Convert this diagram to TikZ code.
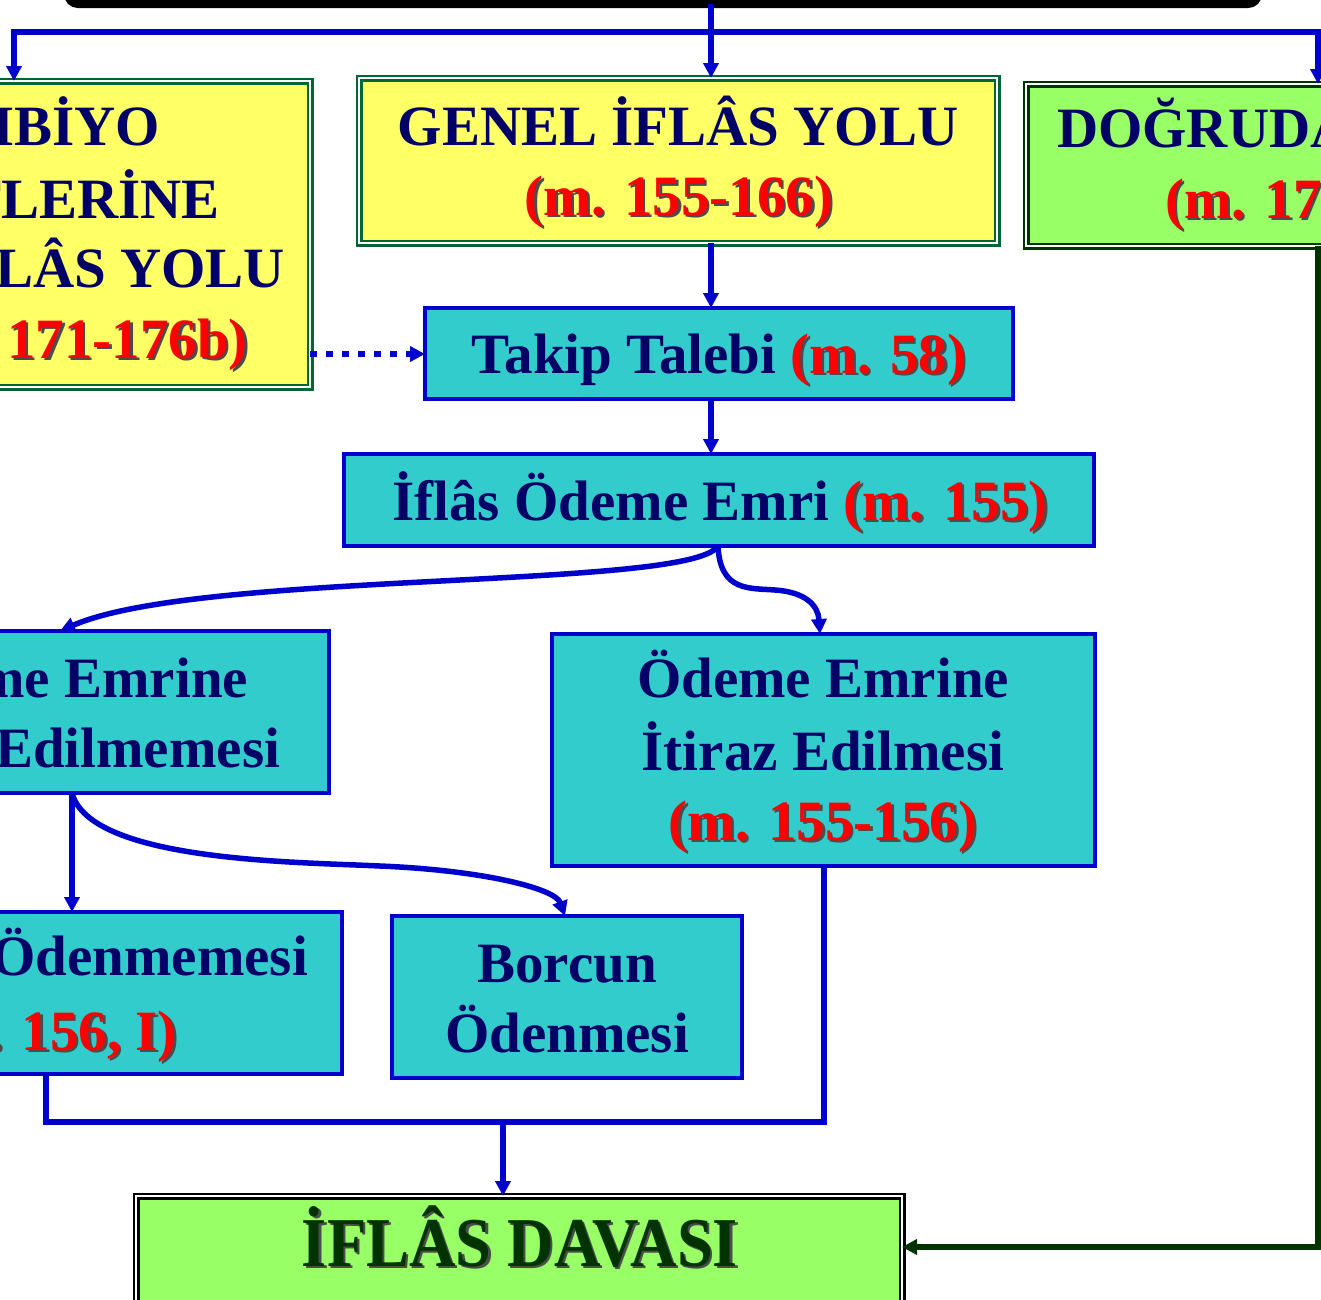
\documentclass[tikz,border=0pt]{standalone}
\usepackage{fontspec}
\setmainfont{Liberation Serif}
\usetikzlibrary{arrows.meta}
\definecolor{navy}{HTML}{000066}
\definecolor{lblue}{HTML}{0000CC}
\definecolor{cyanf}{HTML}{33CCCC}
\definecolor{yel}{HTML}{FFFF66}
\definecolor{grn}{HTML}{006633}
\definecolor{lgrn}{HTML}{99FF66}
\definecolor{dgrn}{HTML}{003300}
\newcommand\shd[2]{\makebox[0pt][l]{\hspace*{2.5pt}\raisebox{-2.5pt}{\textcolor{black!70}{#2}}}\textcolor{#1}{#2}}
\tikzset{
  ybox/.style={draw=grn, double=white, double distance=2pt, line width=2.5pt, fill=yel, inner sep=0pt, outer sep=0pt},
  gbox/.style={draw=dgrn, double=white, double distance=2pt, line width=2.5pt, fill=lgrn, inner sep=0pt, outer sep=0pt},
  kbox/.style={draw=black, double=white, double distance=2pt, line width=2.5pt, fill=lgrn, inner sep=0pt, outer sep=0pt},
  cbox/.style={draw=lblue, line width=4pt, fill=cyanf, inner sep=0pt, outer sep=0pt},
  topbox/.style={draw=black, line width=8pt, fill=yel, rounded corners=10pt, inner sep=0pt, outer sep=0pt},
  txt/.style={inner sep=0pt, outer sep=0pt, text=navy, font=\fontsize{57}{70}\selectfont\bfseries},
  bigtxt/.style={inner sep=0pt, outer sep=0pt, font=\fontsize{70}{70}\selectfont\bfseries},
  blueln/.style={draw=lblue, line width=6pt},
  arr/.style={blueln, -{Triangle[length=15pt,width=15pt]}},
  carr/.style={draw=lblue, line width=5.5pt, -{Triangle[length=15pt,width=15pt]}},
  garr/.style={draw=dgrn, line width=6pt, -{Triangle[length=15pt,width=15pt]}},
  dotarr/.style={draw=lblue, line width=6pt, dash pattern=on 7pt off 9pt, -{Triangle[length=15pt,width=15pt]}}
}
\begin{document}
\begin{tikzpicture}[x=1pt,y=-1pt]
\useasboundingbox (0,0) rectangle (1321,1299);
\clip (0,0) rectangle (1321,1299);
\fill[white] (0,0) rectangle (1321,1299);
% boxes
\node[topbox, minimum width=1190pt, minimum height=200pt] (top) at (663,-96) {};
\node[ybox, minimum width=480pt, minimum height=306pt] (leftbox) at (70,234) {};
\node[ybox, minimum width=638pt, minimum height=165pt] (genel) at (678,160.5) {};
\node[gbox, minimum width=474pt, minimum height=162pt] (dog) at (1263,165) {};
\node[cbox, minimum width=588pt, minimum height=91pt] (takip) at (719,353.5) {};
\node[cbox, minimum width=750pt, minimum height=92pt] (emri) at (719,500) {};
\node[cbox, minimum width=529pt, minimum height=162pt] (lmid) at (64.5,712) {};
\node[cbox, minimum width=543pt, minimum height=232pt] (rmid) at (823.5,750) {};
\node[cbox, minimum width=542pt, minimum height=162pt] (lbot) at (71,993) {};
\node[cbox, minimum width=350pt, minimum height=162pt] (borc) at (567,997) {};
\node[kbox, minimum width=766pt, minimum height=204pt] (dav) at (519,1298) {};
% texts
\node[txt, anchor=base east] (l1) at (160,145) {KAMBİYO};
\node[txt, anchor=base east] (l2) at (220,218) {SENETLERİNE};
\node[txt, anchor=base east] (l3) at (285,287) {İFLÂS YOLU};
\node[txt, anchor=base east] (l4) at (248,358) {\shd{red}{(m. 171-176b)}};
\node[txt, anchor=base] (g1) at (678,145) {GENEL İFLÂS YOLU};
\node[txt, anchor=base] (g2) at (679,215) {\shd{red}{(m. 155-166)}};
\node[txt, anchor=base west] (d1) at (1057,147) {DOĞRUDAN};
\node[txt, anchor=base west] (d2) at (1165,218) {\shd{red}{(m. 177-180)}};
\node[txt, anchor=base] (t1) at (719,373) {Takip Talebi \shd{red}{(m. 58)}};
\node[txt, anchor=base] (e1) at (720,520) {İflâs Ödeme Emri \shd{red}{(m. 155)}};
\node[txt, anchor=base east] (m1) at (248,697) {Ödeme Emrine};
\node[txt, anchor=base east] (m2) at (280,767) {Edilmemesi};
\node[txt, anchor=base] (r1) at (823,697) {Ödeme Emrine};
\node[txt, anchor=base] (r2) at (823,770) {İtiraz Edilmesi};
\node[txt, anchor=base] (r3) at (823,840) {\shd{red}{(m. 155-156)}};
\node[txt, anchor=base east] (b1) at (308,975) {Ödenmemesi};
\node[txt, anchor=base east] (b2) at (177,1050) {\shd{red}{(m. 156, I)}};
\node[txt, anchor=base] (o1) at (567,982) {Borcun};
\node[txt, anchor=base] (o2) at (567,1052) {Ödenmesi};
\node[bigtxt, anchor=base] (dv) at (520,1266) {\scalebox{0.92}[1]{\shd{dgrn}{İFLÂS DAVASI}}};
% coordinates
\coordinate (c711) at (711,0);
\coordinate (hub) at (711,32);
\coordinate (cL) at (14,0);
\coordinate (cR) at (1318,0);
\coordinate (cD) at (0,354);
\coordinate (c718) at (718,0);
\coordinate (c60) at (60,0);
\coordinate (c820) at (820,0);
\coordinate (c72) at (72,0);
\coordinate (c565) at (565,0);
\coordinate (c46) at (46,0);
\coordinate (cB) at (503,1122);
\coordinate (cG) at (0,1247);
% connectors
\draw[arr] (top.south -| c711) -- (genel.north -| c711);
\draw[arr] (hub) -| (leftbox.north -| cL);
\draw[arr] (hub) -| (dog.north -| cR);
\draw[arr] (genel.south -| c711) -- (takip.north -| c711);
\draw[arr] (takip.south -| c711) -- (emri.north -| c711);
\draw[dotarr] (leftbox.east |- cD) -- (takip.west |- cD);
\draw[carr] (emri.south -| c718) .. controls (690,590) and (200,570) .. (lmid.north -| c60);
\draw[carr] (emri.south -| c718) .. controls (720,592) and (750,588) .. (775,590) .. controls (805,592) and (818,605) .. (rmid.north -| c820);
\draw[arr] (lmid.south -| c72) -- (lbot.north -| c72);
\draw[carr] (lmid.south -| c72) .. controls (90,862) and (300,862) .. (380,866) .. controls (480,870) and (555,888) .. (borc.north -| c565);
\draw[blueln] (lbot.south -| c46) |- (rmid.south |- cB) -- (rmid.south);
\draw[arr] (cB) -- (dav.north -| cB);
\draw[garr] (dog.south -| cR) |- (dav.east |- cG);
\end{tikzpicture}
\end{document}
